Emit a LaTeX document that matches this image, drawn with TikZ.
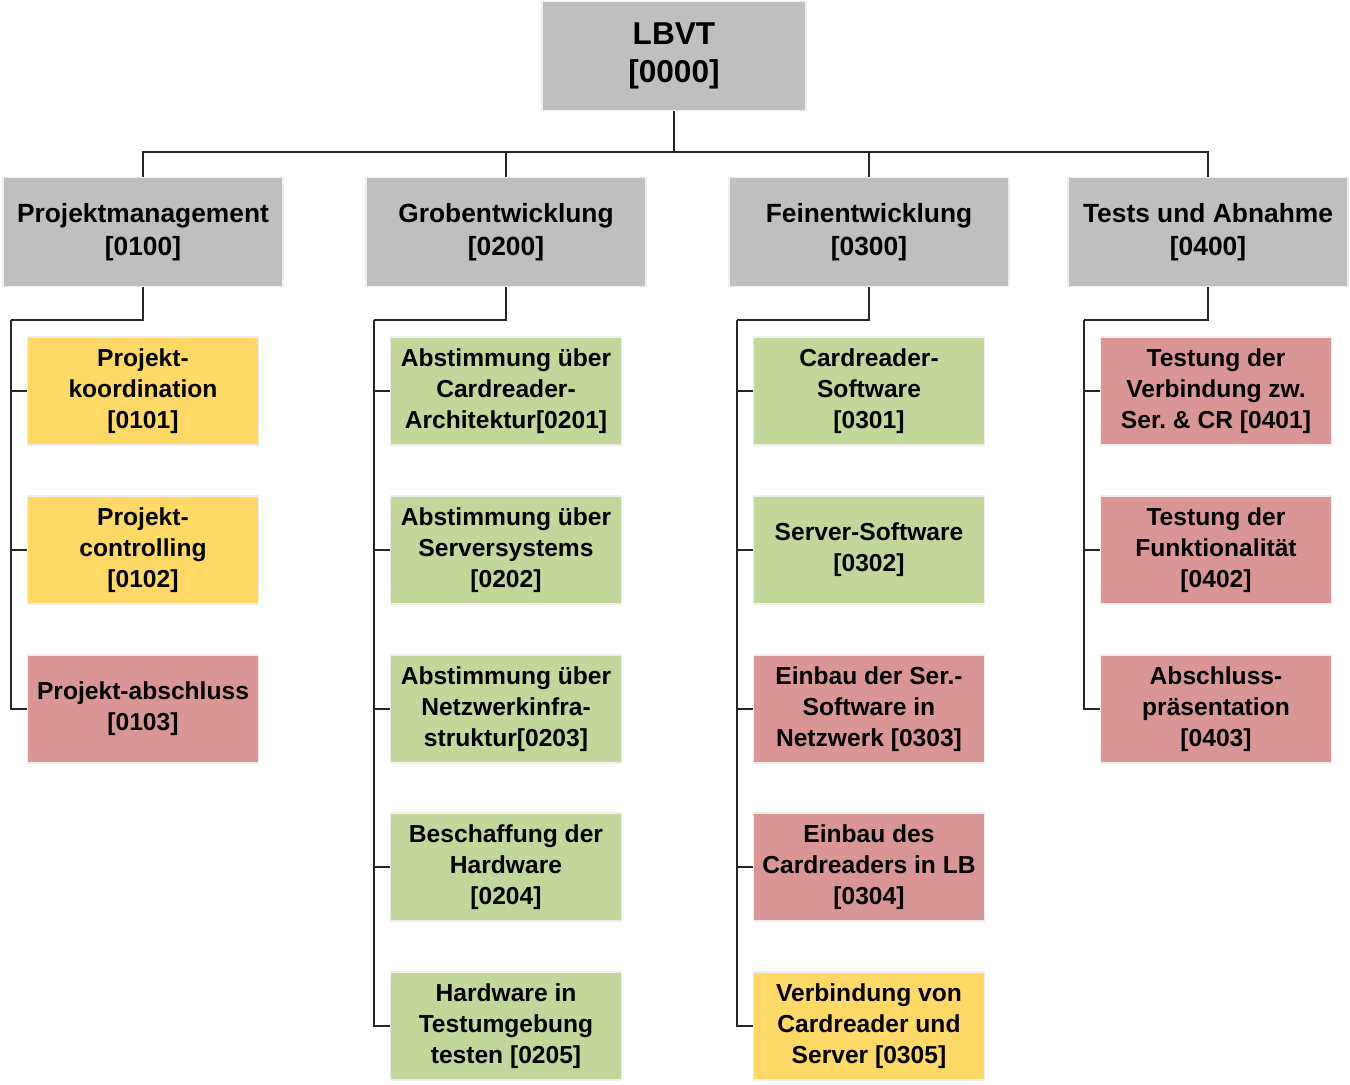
\documentclass[tikz,border=0pt]{standalone}
\usepackage{fontspec}
\setmainfont{Liberation Sans}
\definecolor{boxgray}{HTML}{BFBFBF}
\definecolor{boxyellow}{HTML}{FFD966}
\definecolor{boxgreen}{HTML}{C4D79B}
\definecolor{boxred}{HTML}{DA9694}
\definecolor{boxedge}{HTML}{EEEEEE}
\begin{document}
\begin{tikzpicture}[x=0.02cm, y=-0.02cm,
  every node/.style={font=\bfseries, align=center, draw=boxedge, line width=1pt, inner sep=2pt},
  topbox/.style={fill=boxgray, minimum width=5.28cm, minimum height=2.18cm, font=\bfseries\fontsize{18}{21.5}\selectfont},
  areabox/.style={fill=boxgray, minimum width=5.6cm, minimum height=2.18cm, font=\bfseries\fontsize{15}{18.7}\selectfont},
  pkgbox/.style={minimum width=4.62cm, minimum height=2.16cm, font=\bfseries\fontsize{14}{17.6}\selectfont},
  link/.style={draw=black!85, line width=0.75pt}]
\useasboundingbox (0,0) rectangle (1350,1085);
% root and work areas
\node[topbox] (lbvt) at (674,56) {LBVT\\{}[0000]};
\node[areabox] (pm) at (143,232) {Projektmanagement\\{}[0100]};
\node[areabox] (ge) at (506,232) {Grobentwicklung\\{}[0200]};
\node[areabox] (fe) at (869,232) {Feinentwicklung\\{}[0300]};
\node[areabox] (ta) at (1208,232) {Tests und Abnahme\\{}[0400]};
\coordinate (bus) at (674,152);
\draw[link] (lbvt.south) -- (bus);
\foreach \n in {pm,ge,fe,ta} \draw[link] (bus) -| (\n.north);
% Projektmanagement
\node[pkgbox, fill=boxyellow] (pm1) at (143,391) {Projekt-\\koordination\\{}[0101]};
\node[pkgbox, fill=boxyellow] (pm2) at (143,550) {Projekt-\\controlling\\{}[0102]};
\node[pkgbox, fill=boxred] (pm3) at (143,709) {Projekt-abschluss\\{}[0103]};
% Grobentwicklung
\node[pkgbox, fill=boxgreen] (ge1) at (506,391) {Abstimmung über\\Cardreader-\\Architektur[0201]};
\node[pkgbox, fill=boxgreen] (ge2) at (506,550) {Abstimmung über\\Serversystems\\{}[0202]};
\node[pkgbox, fill=boxgreen] (ge3) at (506,709) {Abstimmung über\\Netzwerkinfra-\\struktur[0203]};
\node[pkgbox, fill=boxgreen] (ge4) at (506,867) {Beschaffung der\\Hardware\\{}[0204]};
\node[pkgbox, fill=boxgreen] (ge5) at (506,1026) {Hardware in\\Testumgebung\\testen [0205]};
% Feinentwicklung
\node[pkgbox, fill=boxgreen] (fe1) at (869,391) {Cardreader-\\Software\\{}[0301]};
\node[pkgbox, fill=boxgreen] (fe2) at (869,550) {Server-Software\\{}[0302]};
\node[pkgbox, fill=boxred] (fe3) at (869,709) {Einbau der Ser.-\\Software in\\Netzwerk [0303]};
\node[pkgbox, fill=boxred] (fe4) at (869,867) {Einbau des\\Cardreaders in LB\\{}[0304]};
\node[pkgbox, fill=boxyellow] (fe5) at (869,1026) {Verbindung von\\Cardreader und\\Server [0305]};
% Tests und Abnahme
\node[pkgbox, fill=boxred] (ta1) at (1216,391) {Testung der\\Verbindung zw.\\Ser.\ \& CR [0401]};
\node[pkgbox, fill=boxred] (ta2) at (1216,550) {Testung der\\Funktionalität\\{}[0402]};
\node[pkgbox, fill=boxred] (ta3) at (1216,709) {Abschluss-\\präsentation\\{}[0403]};
% connectors to work packages
\coordinate (pmk) at (11,320);
\coordinate (gek) at (374,320);
\coordinate (fek) at (737,320);
\coordinate (tak) at (1084,320);
\draw[link] (pm.south) |- (pmk);
\draw[link] (ge.south) |- (gek);
\draw[link] (fe.south) |- (fek);
\draw[link] (ta.south) |- (tak);
\foreach \i in {1,2,3} {
  \draw[link] (pmk) |- (pm\i.west);
  \draw[link] (tak) |- (ta\i.west);
}
\foreach \i in {1,...,5} {
  \draw[link] (gek) |- (ge\i.west);
  \draw[link] (fek) |- (fe\i.west);
}
\end{tikzpicture}
\end{document}
